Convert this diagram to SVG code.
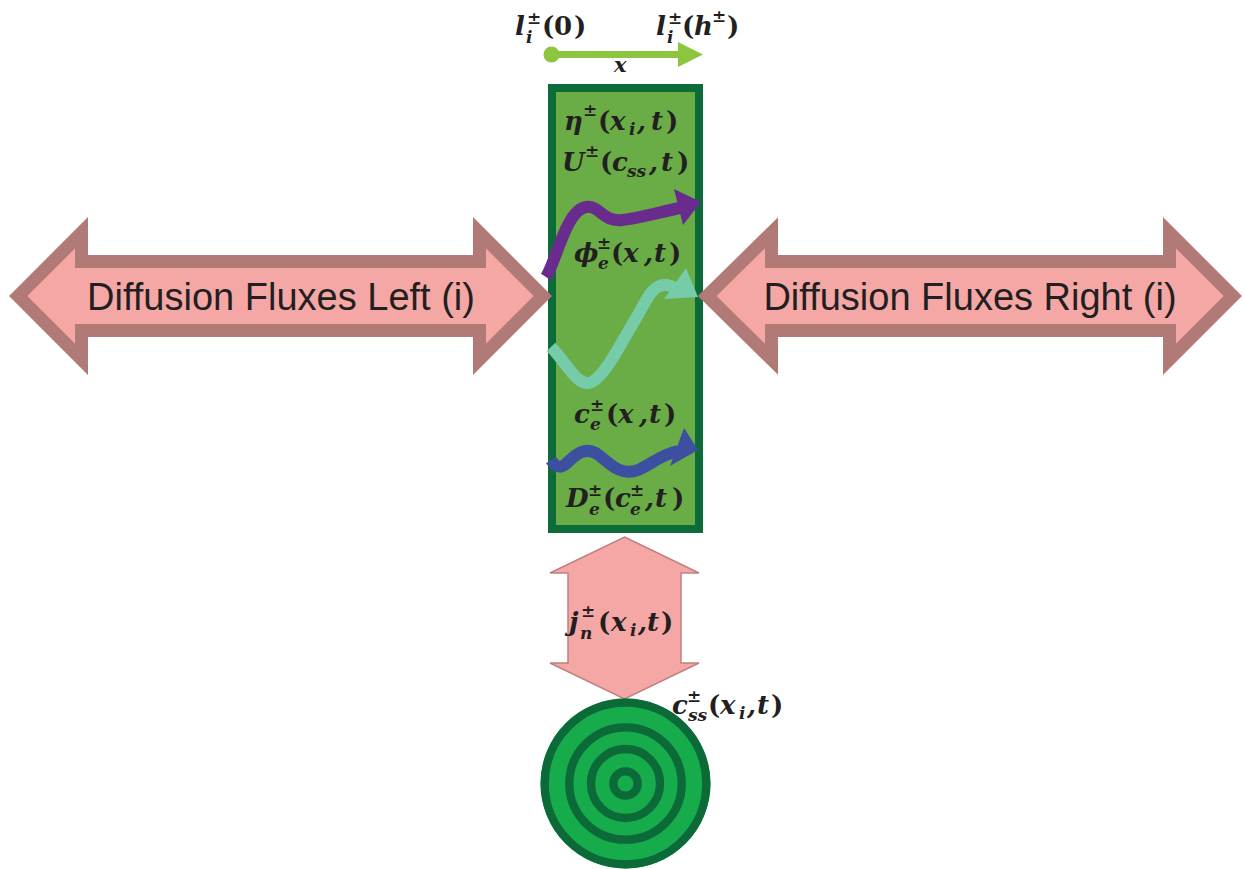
<svg xmlns="http://www.w3.org/2000/svg" width="1244" height="869" viewBox="0 0 1244 869">
<style>
.bg{fill:#ffffff}
.flux{fill:#f5a7a6;stroke:#b27a76;stroke-width:13;stroke-linejoin:miter;stroke-miterlimit:10}
.flux-txt{font-family:"Liberation Sans",Arial,sans-serif;font-size:38px;fill:#231f20;text-anchor:middle}
.m{font-family:"DejaVu Serif","Liberation Serif",serif;font-weight:bold;font-style:italic;font-size:26px;fill:#231f20}
.s{font-size:17px}
.u{font-style:normal}
.cell{fill:#6aac45;stroke:#0d6b3a;stroke-width:8}
.curve{fill:none;stroke-width:12;stroke-linecap:butt}
.vflux{fill:#f5a7a6;stroke:#c0807f;stroke-width:1.5}
.ring{fill:none;stroke:#0b6a37;stroke-width:8.3}
</style>
<rect class="bg" x="0" y="0" width="1244" height="869"/>

<g id="x-axis">
  <line x1="552" y1="54.5" x2="680" y2="54.5" stroke="#8cc63f" stroke-width="7"/>
  <circle cx="551.5" cy="54.5" r="8" fill="#8cc63f"/>
  <polygon points="678,42 703,54.5 678,67" fill="#8cc63f"/>
  <text class="m"><tspan x="515" y="35">l</tspan><tspan class="s u" x="527" y="24">±</tspan><tspan class="s" x="526" y="43">i</tspan><tspan class="u" x="542" y="35">(</tspan><tspan class="u" x="554" y="35">0</tspan><tspan class="u" x="574" y="35">)</tspan></text>
  <text class="m"><tspan x="656" y="35">l</tspan><tspan class="s u" x="668" y="24">±</tspan><tspan class="s" x="667" y="43">i</tspan><tspan class="u" x="682" y="35">(</tspan><tspan x="694" y="35">h</tspan><tspan class="s u" x="712" y="22">±</tspan><tspan class="u" x="727" y="35">)</tspan></text>
  <text class="m" x="614" y="72" style="font-size:21px">x</text>
</g>

<g id="electrode">
  <rect class="cell" x="552" y="88" width="147" height="441"/>
  <text class="m"><tspan x="564" y="130">η</tspan><tspan class="s u" x="583" y="116">±</tspan><tspan class="u" x="598" y="130">(</tspan><tspan x="610" y="130">x</tspan><tspan class="s" x="629" y="135">i</tspan><tspan x="637" y="130">,</tspan><tspan x="651" y="130">t</tspan><tspan class="u" x="666" y="130">)</tspan></text>
  <text class="m"><tspan x="562" y="171">U</tspan><tspan class="s u" x="585" y="157">±</tspan><tspan class="u" x="600" y="171">(</tspan><tspan x="612" y="171">c</tspan><tspan class="s" x="627" y="177">ss</tspan><tspan x="649" y="171">,</tspan><tspan x="661" y="171">t</tspan><tspan class="u" x="677" y="171">)</tspan></text>
  <text class="m"><tspan x="574" y="262">ϕ</tspan><tspan class="s u" x="597" y="249">±</tspan><tspan class="s" x="598" y="269">e</tspan><tspan class="u" x="611" y="262">(</tspan><tspan x="623" y="262">x</tspan><tspan x="644" y="262">,</tspan><tspan x="654" y="262">t</tspan><tspan class="u" x="669" y="262">)</tspan></text>
  <text class="m"><tspan x="574" y="423">c</tspan><tspan class="s u" x="590" y="411">±</tspan><tspan class="s" x="590" y="430">e</tspan><tspan class="u" x="606" y="423">(</tspan><tspan x="618" y="423">x</tspan><tspan x="639" y="423">,</tspan><tspan x="649" y="423">t</tspan><tspan class="u" x="664" y="423">)</tspan></text>
  <text class="m"><tspan x="566" y="507">D</tspan><tspan class="s u" x="588" y="496">±</tspan><tspan class="s" x="589" y="515">e</tspan><tspan class="u" x="603" y="507">(</tspan><tspan x="615" y="507">c</tspan><tspan class="s u" x="630" y="496">±</tspan><tspan class="s" x="630" y="515">e</tspan><tspan x="645" y="507">,</tspan><tspan x="655" y="507">t</tspan><tspan class="u" x="672" y="507">)</tspan></text>
</g>

<g id="left-flux">
  <polygon class="flux" points="18.2,296 81.5,232.7 81.5,261.5 479.5,261.5 479.5,232.7 542.8,296 479.5,359.3 479.5,330.5 81.5,330.5 81.5,359.3"/>
  <text class="flux-txt" x="281" y="310">Diffusion Fluxes Left (i)</text>
</g>

<g id="right-flux">
  <polygon class="flux" points="707.2,296 771.5,232.7 771.5,261.5 1169.5,261.5 1169.5,232.7 1232.8,296 1169.5,359.3 1169.5,330.5 771.5,330.5 771.5,359.3"/>
  <text class="flux-txt" x="970" y="310">Diffusion Fluxes Right (i)</text>
</g>

<g id="potential-curve">
  <path class="curve" stroke="#6a2b8e" d="M 546 277 C 556 262, 566 210, 586 207 C 600 205, 602 222, 622 220 C 640 218, 660 212, 680 208"/>
  <polygon points="674,189 701,202 683,225" fill="#6a2b8e"/>
</g>

<g id="concentration-curve">
  <path class="curve" stroke="#76cba8" d="M 551 347 C 566 362, 578 389, 592 382 C 606 374, 620 345, 632 325 C 645 305, 650 285, 665 285 C 670 285, 674 287, 679 290"/>
  <polygon points="686,268 698,297 664,299" fill="#76cba8"/>
</g>

<g id="diffusivity-curve">
  <path class="curve" stroke="#3d4fa0" stroke-width="10" d="M 551 460 C 557 469, 562 468, 568 462 C 578 452, 588 446, 600 456 C 612 466, 622 476, 638 470 C 650 465, 660 455, 678 451"/>
  <polygon points="684,428 698,450 670,466" fill="#3d4fa0"/>
</g>

<g id="connectors">
  <polygon class="vflux" points="624.5,537 699,573 681,573 681,663 699,663 624.5,699 550,663 568,663 568,573 550,573"/>
  <text class="m"><tspan x="569" y="631">j</tspan><tspan class="s u" x="581" y="617">±</tspan><tspan class="s" x="580" y="639">n</tspan><tspan class="u" x="598" y="631">(</tspan><tspan x="611" y="631">x</tspan><tspan class="s" x="630" y="636">i</tspan><tspan x="638" y="631">,</tspan><tspan x="647" y="631">t</tspan><tspan class="u" x="661" y="631">)</tspan></text>
</g>

<g id="particle">
  <circle cx="625.5" cy="783.5" r="85" fill="#16ab4b"/>
  <circle class="ring" cx="625.5" cy="783.5" r="80.8"/>
  <circle class="ring" cx="625.5" cy="783.5" r="56.2"/>
  <circle class="ring" cx="625.5" cy="783.5" r="34.5"/>
  <circle class="ring" cx="625.5" cy="783.5" r="12.2"/>
  <text class="m"><tspan x="672" y="714">c</tspan><tspan class="s u" x="687" y="702">±</tspan><tspan class="s" x="688" y="721">ss</tspan><tspan class="u" x="708" y="714">(</tspan><tspan x="720" y="714">x</tspan><tspan class="s" x="739" y="719">i</tspan><tspan x="747" y="714">,</tspan><tspan x="757" y="714">t</tspan><tspan class="u" x="771" y="714">)</tspan></text>
</g>
</svg>
